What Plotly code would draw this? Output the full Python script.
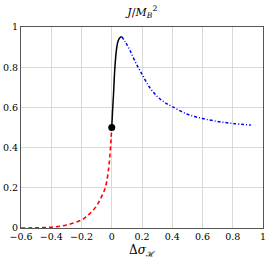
import plotly.graph_objects as go

# Data
red_x = [-0.6, -0.5, -0.4, -0.3, -0.2, -0.15, -0.1, -0.075, -0.05, -0.035, -0.02, -0.01, -0.004, 0.0]
red_y = [0.0, 0.001, 0.004, 0.015, 0.04, 0.068, 0.11, 0.145, 0.185, 0.225, 0.3, 0.38, 0.45, 0.5]

black_x = [0.0, 0.005, 0.011, 0.02, 0.03, 0.04, 0.05, 0.058, 0.066]
black_y = [0.5, 0.58, 0.655, 0.79, 0.88, 0.925, 0.943, 0.95, 0.952]

blue_x = [0.066, 0.09, 0.12, 0.16, 0.2, 0.25, 0.3, 0.35, 0.4, 0.5, 0.6, 0.7, 0.8, 0.92]
blue_y = [0.952, 0.925, 0.884, 0.82, 0.765, 0.70, 0.655, 0.625, 0.604, 0.566, 0.545, 0.53, 0.52, 0.512]

dot_x = [0.0]
dot_y = [0.5]

x_ticks = [-0.6, -0.4, -0.2, 0, 0.2, 0.4, 0.6, 0.8, 1]
x_labels = ["\u22120.6", "\u22120.4", "\u22120.2", "0", "0.2", "0.4", "0.6", "0.8", "1"]
y_ticks = [0, 0.2, 0.4, 0.6, 0.8, 1]
y_labels = ["0", "0.2", "0.4", "0.6", "0.8", "1"]

FONT = "DejaVu Serif"

fig = go.Figure()
fig.add_trace(go.Scatter(x=red_x, y=red_y, mode="lines",
                         line=dict(color="#ff0000", width=1.6, dash="4px,3px", shape="spline"),
                         hoverinfo="skip"))
fig.add_trace(go.Scatter(x=blue_x, y=blue_y, mode="lines",
                         line=dict(color="#0000ff", width=1.5, dash="3px,2px,1px,2px", shape="spline"),
                         hoverinfo="skip"))
fig.add_trace(go.Scatter(x=black_x, y=black_y, mode="lines",
                         line=dict(color="#000000", width=1.5, shape="spline"),
                         hoverinfo="skip"))
fig.add_trace(go.Scatter(x=dot_x, y=dot_y, mode="markers",
                         marker=dict(color="#000000", size=7),
                         hoverinfo="skip"))

axis_common = dict(
    showgrid=True, gridcolor="#d9d9d9", gridwidth=1,
    showline=True, linecolor="#555555", linewidth=1, mirror=True,
    zeroline=False, ticks="", automargin=False, ticklabeloverflow="allow",
    tickfont=dict(family=FONT, size=9.5, color="#000"),
)

fig.update_layout(
    width=266, height=264,
    font=dict(family=FONT),
    margin=dict(l=21, r=3, t=27, b=36, autoexpand=False),
    paper_bgcolor="white", plot_bgcolor="white",
    showlegend=False,
    title=dict(text="<i>J</i>/<i>M</i><sub><i>B</i></sub><sup>2</sup>",
               x=0.535, xanchor="center", y=0.955, yanchor="middle",
               font=dict(family=FONT, size=11, color="#000")),
    xaxis=dict(range=[-0.6, 1], tickvals=x_ticks, ticktext=x_labels,
               title=dict(text="\u0394<i>\u03c3</i><sub>\u210b</sub>", standoff=4,
                          font=dict(family=FONT, size=12, color="#000")),
               **axis_common),
    yaxis=dict(range=[0, 1], tickvals=y_ticks, ticktext=y_labels, **axis_common),
)

fig.write_html("out.html", config={"displayModeBar": False, "staticPlot": True},
               post_script="document.body.style.margin='0';document.body.style.overflow='hidden';")
